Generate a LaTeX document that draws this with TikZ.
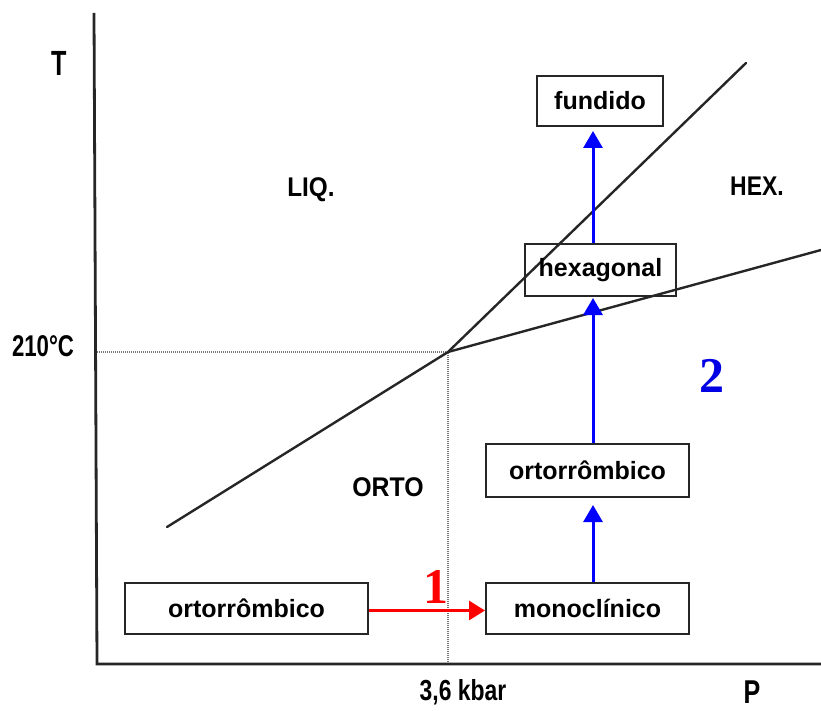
\documentclass[tikz,border=0pt]{standalone}
\usepackage{fontspec}
\usepackage{graphicx}
\setmainfont{Liberation Sans}
\newfontfamily\numfont{Liberation Serif}
\usetikzlibrary{arrows.meta}
\newcommand{\nar}[2]{\scalebox{#1}[1]{#2}}
\tikzset{
  box/.style={draw=black!85, line width=2pt, inner sep=0pt,
    font=\fontsize{25}{30}\selectfont\bfseries},
  region/.style={inner sep=0pt, font=\fontsize{27}{32}\selectfont\bfseries},
  axislabel/.style={inner sep=0pt, font=\fontsize{31}{36}\selectfont},
  phase/.style={line width=2.4pt, black!85, line cap=round},
  guide/.style={line width=1.3pt, black!55, dash pattern=on 1pt off 1pt},
  axisline/.style={line width=2.8pt, black!85},
  bluearrow/.style={blue, line width=3pt, -{Triangle[length=17pt,width=19pt]}},
  redarrow/.style={red, line width=3pt, -{Triangle[length=16pt,width=19pt]}},
  bignum/.style={inner sep=0pt, font=\fontsize{50}{56}\numfont\bfseries},
}
\begin{document}
\begin{tikzpicture}[x=1pt,y=-1pt]
\useasboundingbox (0,0) rectangle (821,711);
% key coordinates
\coordinate (ytop) at (94,13);
\coordinate (orig) at (97,664);
\coordinate (xend) at (821,664);
\coordinate (tp) at (448,352);
\coordinate (yref) at (97,352);
\coordinate (xref) at (448,664);
\coordinate (lowend) at (167,527);
\coordinate (steepend) at (746,63);
\coordinate (shallowend) at (821,250);
% guides
\draw[guide] (yref) -- (tp) -- (xref);
% axes
\draw[axisline] (ytop) -- (orig) -- (xend);
% phase boundaries
\draw[phase] (lowend) -- (tp) -- (steepend);
\draw[phase] (tp) -- (shallowend);
% boxes
\node[box, minimum width=126pt, minimum height=50pt] (fund) at (600,101) {fundido};
\node[box, minimum width=151pt, minimum height=52pt] (hex) at (600.5,270) {hexagonal};
\node[box, minimum width=203pt, minimum height=53pt] (ortoR) at (587.5,470.5) {ortorrômbico};
\node[box, minimum width=203pt, minimum height=51pt] (mono) at (587.5,608.5) {monoclínico};
\node[box, minimum width=243pt, minimum height=51pt] (ortoL) at (246.5,608.5) {ortorrômbico};
% arrows
\coordinate (ax) at (593,0);
\draw[bluearrow, shorten >=7pt] (mono.north -| ax) -- (ortoR.south -| ax);
\draw[bluearrow, shorten >=1pt] (ortoR.north -| ax) -- (hex.south -| ax);
\draw[bluearrow, shorten >=4pt] (hex.north -| ax) -- (fund.south -| ax);
\draw[redarrow] ([yshift=-2pt]ortoL.east) -- ([yshift=-2pt]mono.west);
% numbers
\node[bignum, text=red] (n1) at (436,587) {1};
\node[bignum, text=blue!90!black] (n2) at (712,376) {2};
% region labels
\node[region] (liq) at (311,190) {\nar{0.9}{LIQ.}};
\node[region] (hexl) at (757,186) {\nar{0.85}{HEX.}};
\node[region] (orto) at (388,487) {\nar{0.92}{ORTO}};
% axis labels
\node[axislabel, font=\fontsize{35}{40}\selectfont\bfseries] (T) at (59,63) {\nar{0.72}{T}};
\node[axislabel, font=\fontsize{33}{40}\selectfont\bfseries] (P) at (752,692) {\nar{0.76}{P}};
\node[axislabel, font=\fontsize{30}{36}\selectfont\bfseries] (tc) at (43,346) {\nar{0.74}{210°C}};
\node[axislabel, font=\fontsize{29}{36}\selectfont\bfseries] (kb) at (463,692) {\nar{0.79}{3,6 kbar}};
\end{tikzpicture}
\end{document}
